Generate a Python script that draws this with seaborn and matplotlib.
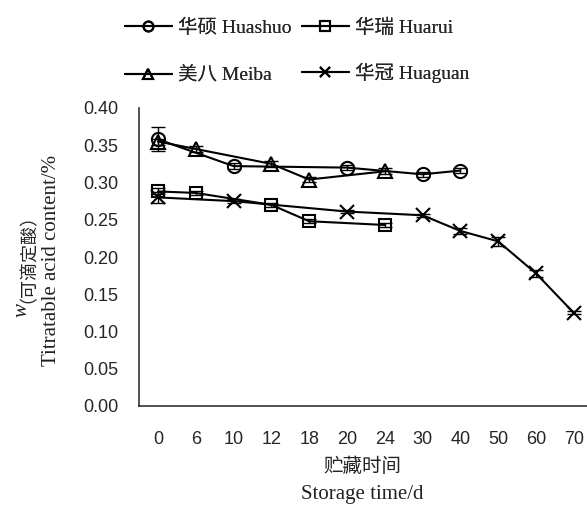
import numpy as np
import matplotlib
matplotlib.use("Agg")
import matplotlib.pyplot as plt
import seaborn as sns

categories = ['0', '6', '10', '12', '18', '20', '24', '30', '40', '50', '60', '70']

huashuo_days = [0, 10, 20, 30, 40]
huashuo = [0.358, 0.322, 0.320, 0.311, 0.316]
huashuo_err = [0.016, 0.004, 0.003, 0.003, 0.003]

huarui_days = [0, 6, 12, 18, 24]
huarui = [0.288, 0.286, 0.270, 0.248, 0.243]
huarui_err = [0.004, 0.003, 0.003, 0.003, 0.003]

meiba_days = [0, 6, 12, 18, 24]
meiba = [0.355, 0.345, 0.325, 0.304, 0.315]
meiba_err = [0.004, 0.004, 0.004, 0.003, 0.004]

huaguan_days = [0, 10, 20, 30, 40, 50, 60, 70]
huaguan = [0.280, 0.275, 0.261, 0.256, 0.235, 0.221, 0.178, 0.125]
huaguan_err = [0.007, 0.003, 0.002, 0.002, 0.004, 0.006, 0.005, 0.002]

labels = ['华硕 Huashuo', '华瑞 Huarui', '美八 Meiba', '华冠 Huaguan']

sns.set_style('white')
SERIF = ['Liberation Serif', 'Noto Sans CJK SC']
SANS = ['Liberation Sans', 'DejaVu Sans']
CJK = ['Noto Sans CJK SC', 'DejaVu Sans']
plt.rcParams['font.family'] = SERIF

W, H = 587, 507
fig = plt.figure(figsize=(W / 100, H / 100), dpi=100)
ax = fig.add_axes([139 / W, 1 - 406 / H, 448 / W, 298 / H])

series = [
    (huashuo_days, huashuo, huashuo_err, 'o', labels[0]),
    (huarui_days, huarui, huarui_err, 's', labels[1]),
    (meiba_days, meiba, meiba_err, '^', labels[2]),
    (huaguan_days, huaguan, huaguan_err, 'x', labels[3]),
]

for days, vals, errs, mk, lab in series:
    pos = [categories.index(str(d)) for d in days]
    ax.errorbar(pos, vals, yerr=errs, fmt='none', ecolor='black',
                elinewidth=1.0, capsize=5, capthick=1.0, zorder=2)
    sns.lineplot(x=pos, y=vals, ax=ax, color='black', linewidth=1.5,
                 marker=mk, markersize={'o': 9.5, 's': 9, '^': 10, 'x': 10}[mk],
                 markerfacecolor='none', markeredgecolor='black',
                 markeredgewidth=1.5, label=lab, zorder=3)

ax.set_xlim(-0.5, 11.35)
ax.set_ylim(0, 0.40)
ax.set_xticks(range(len(categories)))
ax.set_xticklabels(categories, family=SANS, fontsize=13)
ax.set_xticks(np.arange(0.5, len(categories) - 1, 1), minor=True)
ax.tick_params(axis='x', which='major', length=0, pad=18)
ax.tick_params(axis='x', which='minor', length=5, direction='in', width=1, color='#333333')
ax.set_yticks(np.arange(0, 0.401, 0.05))
ax.set_yticklabels([f'{v:.2f}' for v in np.arange(0, 0.401, 0.05)], family=SANS, fontsize=13)
ax.tick_params(axis='y', direction='in', length=6, width=1, pad=15, color='#333333')
for s in ['top', 'right']:
    ax.spines[s].set_visible(False)
for s in ['left', 'bottom']:
    ax.spines[s].set_color('#333333')
    ax.spines[s].set_linewidth(1.2)
ax.set_xlabel('')
ax.set_ylabel('')

handles, labs = ax.get_legend_handles_labels()
ax.get_legend().remove()
leg_kw = dict(loc='upper left', ncol=1, frameon=False, handlelength=2.4,
              handletextpad=0.35, markerscale=0.75,
              borderpad=0, borderaxespad=0, prop={'family': SERIF, 'size': 14})
for cols, x0, sp in (([0, 2], 125, 1.52), ([1, 3], 302, 1.31)):
    leg = fig.legend([handles[i] for i in cols], [labs[i] for i in cols],
                     bbox_to_anchor=(x0 / W, 1 - 19 / H), labelspacing=sp, **leg_kw)
    fig.add_artist(leg)

fig.text(362 / W, 1 - 466 / H, '贮藏时间', ha='center', va='center', family=CJK, fontsize=14, color='#222222')
fig.text(362 / W, 1 - 495 / H, 'Storage time/d', ha='center', va='center', family=SERIF, fontsize=15, color='#222222')

fig.text(19 / W, 1 - 303 / H, '（可滴定酸）', rotation=90, ha='center', va='bottom', family=CJK, fontsize=13, color='#222222')
fig.text(22 / W, 1 - 303 / H, 'w', rotation=90, ha='center', va='top', family=SERIF, style='italic', fontsize=15, color='#222222')
fig.text(52 / W, 1 - 260 / H, 'Titratable acid content/%', rotation=90, ha='center', va='center', family=SERIF, fontsize=15, color='#222222')

fig.savefig('out.png', dpi=100)
